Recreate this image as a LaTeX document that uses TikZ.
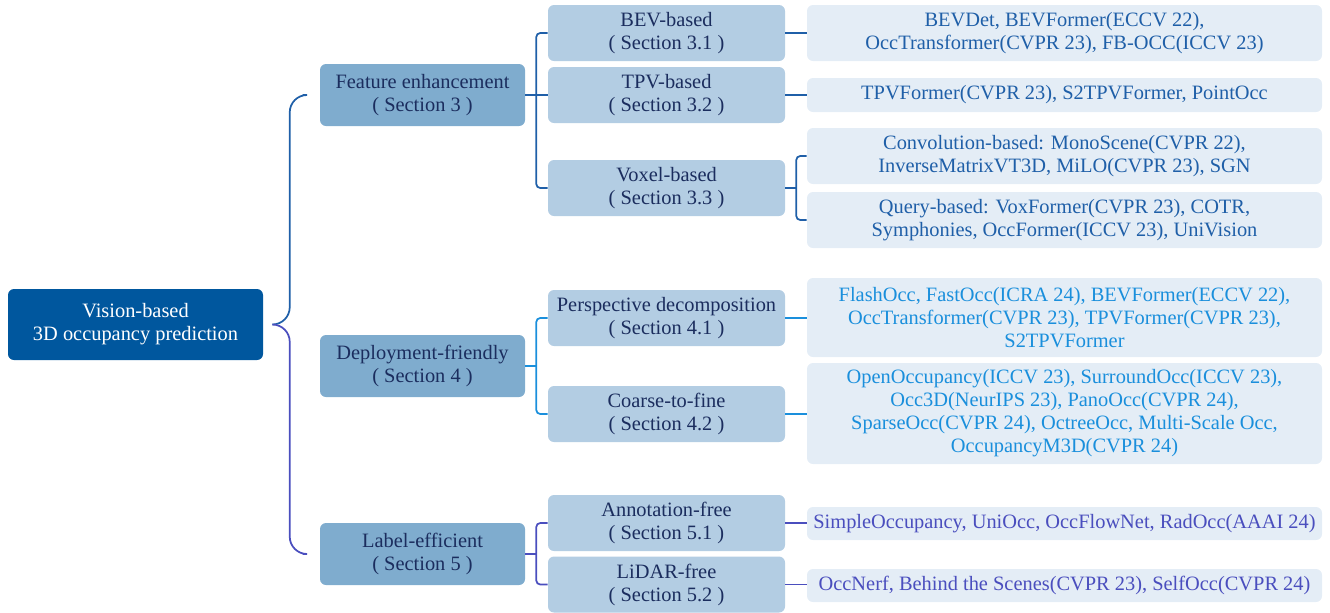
\documentclass[tikz,border=0pt]{standalone}
\usepackage{fontspec}
\setmainfont{Liberation Serif}
\usetikzlibrary{positioning,calc}
\definecolor{rootblue}{HTML}{00579E}
\definecolor{lvone}{HTML}{7FACCE}
\definecolor{lvtwo}{HTML}{B3CDE3}
\definecolor{lvthree}{HTML}{E4EDF6}
\definecolor{navytext}{HTML}{1B2D5E}
\definecolor{secthree}{HTML}{1F5FA8}
\definecolor{secfour}{HTML}{1A8FDC}
\definecolor{secfive}{HTML}{4A4EBE}
\begin{document}
\begin{tikzpicture}[x=0.75pt,y=-0.75pt,
   every node/.style={font=\fontsize{15.3}{17.25}\selectfont,align=center,inner sep=0pt},
   box/.style={rounded corners=4.5pt},
   rootbox/.style={box,fill=rootblue,text=white,minimum width=191.25pt,minimum height=53.25pt},
   catbox/.style={box,fill=lvone,text=navytext,minimum width=153.75pt,minimum height=46.5pt},
   subbox/.style={box,fill=lvtwo,text=navytext,minimum width=177.75pt,minimum height=42pt},
   workbox/.style={box,fill=lvthree,minimum width=386.25pt},
   link/.style={line width=1.3pt,rounded corners=3pt}]
  \useasboundingbox (0,0) rectangle (1330,612);

  % root and first level
  \node[rootbox] (root) at (135.5,324.5) {Vision-based\\3D occupancy prediction};
  \node[catbox] (fe)  at (422.5,95)  {Feature enhancement\\( Section 3 )};
  \node[catbox] (dep) at (422.5,366) {Deployment-friendly\\( Section 4 )};
  \node[catbox] (lab) at (422.5,554) {Label-efficient\\( Section 5 )};

  % second level
  \node[subbox] (bev)    at (666.5,33)    {BEV-based\\( Section 3.1 )};
  \node[subbox] (tpv)    at (666.5,95)    {TPV-based\\( Section 3.2 )};
  \node[subbox] (vox)    at (666.5,188)   {Voxel-based\\( Section 3.3 )};
  \node[subbox] (persp)  at (666.5,318)   {Perspective decomposition\\( Section 4.1 )};
  \node[subbox] (coarse) at (666.5,414)   {Coarse-to-fine\\( Section 4.2 )};
  \node[subbox] (annot)  at (666.5,523)   {Annotation-free\\( Section 5.1 )};
  \node[subbox] (lidar)  at (666.5,584.5) {LiDAR-free\\( Section 5.2 )};

  % methods
  \node[workbox,text=secthree,minimum height=42pt] (bevw) at (1064.5,33)
    {BEVDet, BEVFormer(ECCV 22),\\OccTransformer(CVPR 23), FB-OCC(ICCV 23)};
  \node[workbox,text=secthree,minimum height=25.5pt] (tpvw) at (1064.5,95)
    {TPVFormer(CVPR 23), S2TPVFormer, PointOcc};
  \node[workbox,text=secthree,minimum height=42pt] (convw) at (1064.5,156)
    {Convolution-based: MonoScene(CVPR 22),\\InverseMatrixVT3D, MiLO(CVPR 23), SGN};
  \node[workbox,text=secthree,minimum height=42pt] (queryw) at (1064.5,220)
    {Query-based: VoxFormer(CVPR 23), COTR,\\Symphonies, OccFormer(ICCV 23), UniVision};
  \node[workbox,text=secfour,minimum height=59.25pt] (perspw) at (1064.5,317.5)
    {FlashOcc, FastOcc(ICRA 24), BEVFormer(ECCV 22),\\OccTransformer(CVPR 23), TPVFormer(CVPR 23),\\S2TPVFormer};
  \node[workbox,text=secfour,minimum height=75.75pt] (coarsew) at (1064.5,413.5)
    {OpenOccupancy(ICCV 23), SurroundOcc(ICCV 23),\\Occ3D(NeurIPS 23), PanoOcc(CVPR 24),\\SparseOcc(CVPR 24), OctreeOcc, Multi-Scale Occ,\\OccupancyM3D(CVPR 24)};
  \node[workbox,text=secfive,minimum height=24.75pt] (annotw) at (1064.5,523.5)
    {SimpleOccupancy, UniOcc, OccFlowNet, RadOcc(AAAI 24)};
  \node[workbox,text=secfive,minimum height=24.75pt] (lidarw) at (1064.5,585.5)
    {OccNerf, Behind the Scenes(CVPR 23), SelfOcc(CVPR 24)};

  % brace from the root
  \coordinate (tip) at ($(root.east)+(10,0)$);
  \coordinate (braceup) at ($(fe.west)+(-17,0)$);
  \coordinate (bracedown) at ($(lab.west)+(-17,0)$);
  \draw[link,secthree,rounded corners=13pt] (tip) -| ($(braceup)+(-13,0)$) -- (braceup);
  \draw[link,secfive,rounded corners=13pt] (tip) -| ($(bracedown)+(-13,0)$) -- (bracedown);

  % first to second level
  \coordinate (fj) at ($(fe.east)+(11,0)$);
  \coordinate (dj) at ($(dep.east)+(11,0)$);
  \coordinate (lj) at ($(lab.east)+(11,0)$);
  \draw[link,secthree] (bev.west) -| (fj) |- (vox.west);
  \draw[link,secthree] (fe.east) -- (tpv.west);
  \draw[link,secfour] (persp.west) -| (dj) |- (coarse.west);
  \draw[link,secfour] (dep.east) -- (dj);
  \draw[link,secfive] (annot.west) -| (lj) |- (lidar.west);
  \draw[link,secfive] (lab.east) -- (lj);

  % second level to methods
  \coordinate (vj) at ($(vox.east)+(11,0)$);
  \draw[link,secthree] (bev.east) -- (bevw.west);
  \draw[link,secthree] (tpv.east) -- (tpvw.west);
  \draw[link,secthree] (convw.west) -| (vj) |- (queryw.west);
  \draw[link,secthree] (vox.east) -- (vj);
  \draw[link,secfour] (persp.east) -- (perspw.west |- persp.east);
  \draw[link,secfour] (coarse.east) -- (coarsew.west |- coarse.east);
  \draw[link,secfive] (annot.east) -- (annotw.west |- annot.east);
  \draw[link,secfive] (lidar.east) -- (lidarw.west |- lidar.east);
\end{tikzpicture}
\end{document}
